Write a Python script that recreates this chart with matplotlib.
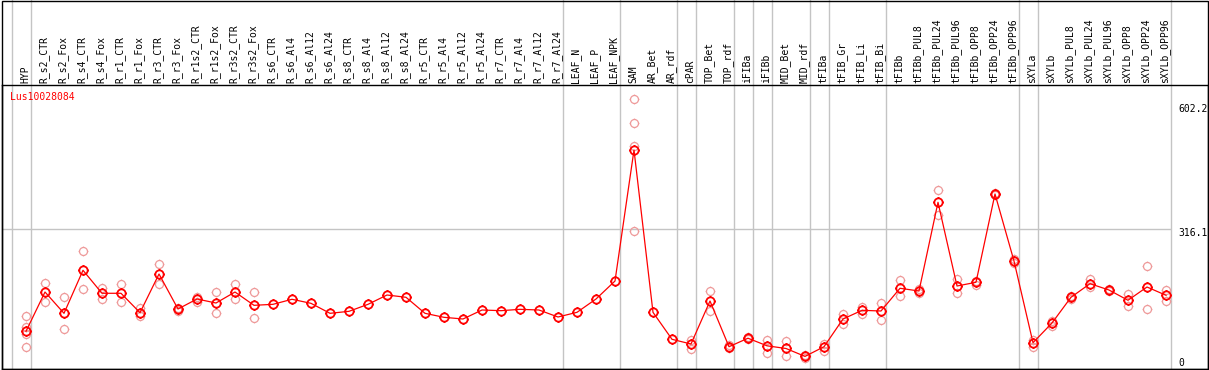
import numpy as np
import matplotlib
matplotlib.use("Agg")
import matplotlib.pyplot as plt
from matplotlib.path import Path
from matplotlib.patches import Rectangle
from matplotlib.transforms import ScaledTranslation

# ---------------- data ----------------
gene = "Lus10028084"

samples = ["HYP", "R_s2_CTR", "R_s2_Fox", "R_s4_CTR", "R_s4_Fox", "R_r1_CTR", "R_r1_Fox",
           "R_r3_CTR", "R_r3_Fox", "R_r1s2_CTR", "R_r1s2_Fox", "R_r3s2_CTR", "R_r3s2_Fox",
           "R_s6_CTR", "R_s6_Al4", "R_s6_Al12", "R_s6_Al24", "R_s8_CTR", "R_s8_Al4",
           "R_s8_Al12", "R_s8_Al24", "R_r5_CTR", "R_r5_Al4", "R_r5_Al12", "R_r5_Al24",
           "R_r7_CTR", "R_r7_Al4", "R_r7_Al12", "R_r7_Al24", "LEAF_N", "LEAF_P", "LEAF_NPK",
           "SAM", "AR_Bet", "AR_rdf", "cPAR", "TOP_Bet", "TOP_rdf", "iFIBa", "iFIBb",
           "MID_Bet", "MID_rdf", "tFIBa", "tFIB_Gr", "tFIB_Li", "tFIB_Bi", "tFIBb",
           "tFIBb_PUL8", "tFIBb_PUL24", "tFIBb_PUL96", "tFIBb_OPP8", "tFIBb_OPP24",
           "tFIBb_OPP96", "sXYLa", "sXYLb", "sXYLb_PUL8", "sXYLb_PUL24", "sXYLb_PUL96",
           "sXYLb_OPP8", "sXYLb_OPP24", "sXYLb_OPP96"]

means = [90.2, 176.7, 129.8, 224.5, 173.9, 173.9, 131.2, 216.3, 139.3, 161.3,
         152.5, 176.7, 147.4, 149.6, 160.7, 151.8, 129.8, 134.2, 149.6, 170.1,
         165.1, 129.8, 121.0, 117.3, 137.1, 135.6, 138.6, 137.1, 121.7, 132.0,
         161.3, 200.9, 489.2, 132.0, 72.6, 62.3, 156.9, 56.3, 75.0, 58.3,
         52.4, 35.0, 56.3, 117.3, 136.4, 134.9, 184.9, 178.9, 374.1, 189.9,
         198.1, 392.4, 244.9, 65.1, 108.5, 165.1, 195.0, 181.1, 158.5, 187.7,
         169.5]

replicates = [
    [123.9, 99.7, 84.3, 55.7], [195.9, 154.7], [165.1, 94.6], [266.9, 182.7],
    [185.5, 160.7], [194.3, 154.7], [142.2, 123.9], [237.7, 194.3], [140.8, 134.2],
    [166.4, 155.4], [176.1, 129.8], [194.3, 160.7], [176.1, 118.8],
    [], [], [], [], [], [], [], [], [], [], [], [], [], [], [], [], [], [], [],
    [602.2, 548.6, 498.7, 310.3], [], [], [71.1, 51.9], [178.9, 134.9], [59.0, 53.6],
    [77.7, 72.2], [71.1, 42.5], [68.9, 36.8], [38.1, 30.4], [62.3, 46.4],
    [128.7, 105.2], [143.0, 128.3], [152.5, 114.4], [202.5, 168.6], [182.7, 175.2],
    [400.5, 345.5], [205.3, 173.9], [201.6, 192.1], [393.9, 390.8], [248.7, 239.9],
    [71.1, 56.3], [112.2, 102.6], [167.9, 162.0], [206.0, 187.1], [184.0, 178.3],
    [171.7, 145.9], [233.9, 139.3], [181.8, 157.6]]

group_starts = [0, 1, 29, 32, 35, 36, 38, 39, 40, 42, 43, 46, 53, 54, 61]
ref_value = 316.1
axis_labels = ["602.2", "316.1", "0"]

# ---------------- figure ----------------
W, H = 1209, 370
fig = plt.figure(figsize=(W / 100, H / 100), dpi=100)
fig.patch.set_facecolor("white")

ax_l, ax_r, ax_t, ax_b = 1.5, 1208, 85, 369
ax = fig.add_axes([ax_l / W, (H - ax_b) / H, (ax_r - ax_l) / W, (ax_b - ax_t) / H])
x0, dx = 26.0, 19.0  # px of first column centre, column pitch
ax.set_xlim((ax_l - x0) / dx, (ax_r - x0) / dx)
py0, ppu = 372.3, 0.4544  # px of value 0, px per unit
ax.set_ylim((py0 - ax_b) / ppu, (py0 - ax_t) / ppu)

for s in ax.spines.values():
    s.set_linewidth(1.0)
    s.set_color("black")

mono = "DejaVu Sans Mono"
fs = 7.0
n = len(samples)
idx = np.arange(n)

# group separators (full height, through label area)
ext = (ax_b - 0) / (ax_b - ax_t)
for k in group_starts:
    ax.axvline(k - 0.753, ymin=0, ymax=ext, color="#c4c4c4", lw=1.0, clip_on=False, zorder=1)

# reference gridline
ax.hlines(ref_value, ax.get_xlim()[0], 61 - 0.753, color="#c4c4c4", lw=1.0, zorder=1)

# custom circle marker with tiny cardinal ticks
circ = Path.circle((0, 0), 1.0)
t = 1.22
ticks = Path([(0, 1), (0, t), (0, -1), (0, -t), (1, 0), (t, 0), (-1, 0), (-t, 0)],
             [Path.MOVETO, Path.LINETO] * 4)
marker = Path.make_compound_path(circ, ticks)

# replicates
rx, ry = [], []
for i, reps in enumerate(replicates):
    for v in reps:
        rx.append(i)
        ry.append(v)
ax.plot(rx, ry, linestyle="none", marker=marker, markersize=7.0, markerfacecolor="none",
        markeredgecolor="#ee9a9a", markeredgewidth=0.9, zorder=2)

# means
ax.plot(idx, means, color="red", lw=0.9, zorder=3)
ax.plot(idx, means, linestyle="none", marker=marker, markersize=7.3, markerfacecolor="none",
        markeredgecolor="red", markeredgewidth=1.3, zorder=4)

# sample labels on top
ax.xaxis.tick_top()
ax.set_xticks(idx)
ax.set_xticklabels(samples, rotation=90, fontfamily=mono, fontsize=fs)
ax.tick_params(axis="x", length=0, pad=1.4)
off = ScaledTranslation(-1 / 100, 0, fig.dpi_scale_trans)
for lab in ax.get_xticklabels():
    lab.set_transform(lab.get_transform() + off)
ax.set_yticks([])

# value labels on the right
tx = (1178 - x0) / dx
for lbl, top_px in zip(axis_labels, [104, 228.3, 357.7]):
    ax.text(tx, (py0 - top_px) / ppu, lbl, ha="left", va="top", fontfamily=mono,
            fontsize=fs, color="black", clip_on=False)

# gene name
ax.text((10 - x0) / dx, (py0 - 97) / ppu, gene, ha="left", va="center", color="red",
        fontfamily=mono, fontsize=fs, zorder=5)

# outer frame
fig.patches.append(Rectangle((ax_l / W, (H - ax_b) / H), (ax_r - ax_l) / W, (ax_b - 0.5) / H,
                             transform=fig.transFigure, fill=False, edgecolor="black",
                             lw=1.0, zorder=10))

fig.savefig("out.png", dpi=100)
